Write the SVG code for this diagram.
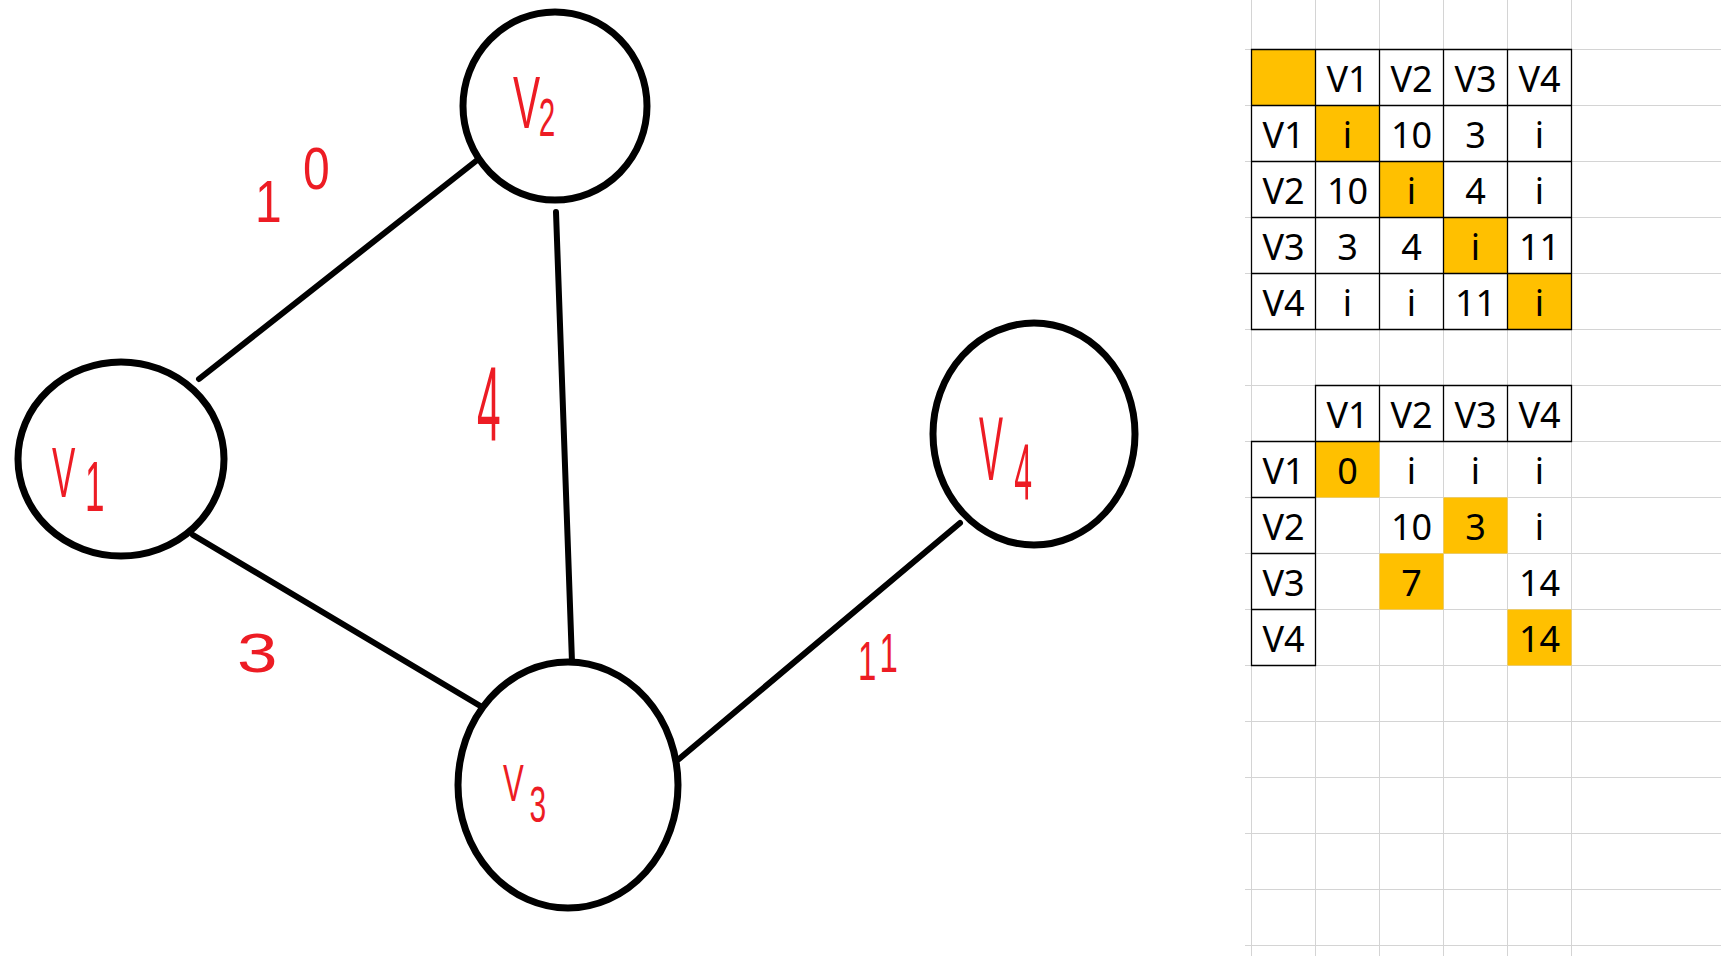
<svg xmlns="http://www.w3.org/2000/svg" width="1721" height="956" viewBox="0 0 1721 956">
<style>
.node{fill:none;stroke:#000;stroke-width:7}
.edge{stroke:#000;stroke-width:6;stroke-linecap:round;fill:none}
.hw{font-family:"Liberation Sans",Arial,sans-serif;fill:#ED1C24}
.grid{stroke:#D4D4D4;stroke-width:1}
.bd{stroke:#000;stroke-width:1.3;fill:none}
.hl{fill:#FFC000}
.c{font-family:"Noto Sans","Open Sans",sans-serif;font-size:36px;text-anchor:middle;fill:#000}
</style>
<rect width="1721" height="956" fill="#fff"/>
<g id="grid">
<path class="grid" d="M1251.5 0V956M1315.5 0V956M1379.5 0V956M1443.5 0V956M1507.5 0V956M1571.5 0V956
M1245 49.5H1721M1245 105.5H1721M1245 161.5H1721M1245 217.5H1721M1245 273.5H1721M1245 329.5H1721M1245 385.5H1721M1245 441.5H1721M1245 497.5H1721M1245 553.5H1721M1245 609.5H1721M1245 665.5H1721M1245 721.5H1721M1245 777.5H1721M1245 833.5H1721M1245 889.5H1721M1245 945.5H1721"/>
</g>
<g id="edges">
<line class="edge" x1="199" y1="379" x2="476" y2="161"/>
<line class="edge" x1="556" y1="212" x2="572" y2="662"/>
<line class="edge" x1="193" y1="535" x2="482" y2="707"/>
<line class="edge" x1="679" y1="759" x2="960" y2="523"/>
</g>
<g id="edge-labels">
<text class="hw" font-size="60" transform="translate(255,222) scale(0.8,1)"><tspan>1</tspan><tspan x="60" dy="-33">0</tspan></text>
<text class="hw" font-size="106" transform="translate(477,441) scale(0.4,1)">4</text>
<text class="hw" font-size="56" transform="translate(237,672) scale(1.3,1)">3</text>
<text class="hw" font-size="55" transform="translate(858,680) scale(0.6,1)"><tspan>1</tspan><tspan x="36" dy="-8">1</tspan></text>
</g>
<g id="node-v1">
<ellipse class="node" cx="121" cy="459" rx="103" ry="97"/>
<text class="hw" font-size="70" transform="translate(52,497) scale(0.5,1)"><tspan>V</tspan><tspan x="66" dy="14">1</tspan></text>
</g>
<g id="node-v2">
<ellipse class="node" cx="555" cy="106" rx="92" ry="94"/>
<text class="hw" font-size="74" transform="translate(513,128) scale(0.55,1)"><tspan>V</tspan><tspan x="47" dy="8" font-size="54">2</tspan></text>
</g>
<g id="node-v3">
<ellipse class="node" cx="568" cy="785" rx="110" ry="123"/>
<text class="hw" font-size="52" transform="translate(503,801) scale(0.6,1)"><tspan>V</tspan><tspan x="44" dy="21" font-size="50">3</tspan></text>
</g>
<g id="node-v4">
<ellipse class="node" cx="1034" cy="434" rx="101" ry="111"/>
<text class="hw" font-size="90" transform="translate(979,480) scale(0.4,1)"><tspan>V</tspan><tspan x="88" dy="19" font-size="80">4</tspan></text>
</g>
<g id="table1">
<rect class="hl" x="1251.5" y="49.5" width="64" height="56"/>
<rect class="hl" x="1315.5" y="105.5" width="64" height="56"/>
<rect class="hl" x="1379.5" y="161.5" width="64" height="56"/>
<rect class="hl" x="1443.5" y="217.5" width="64" height="56"/>
<rect class="hl" x="1507.5" y="273.5" width="64" height="56"/>
<path class="bd" d="M1251.5 49.5H1571.5V329.5H1251.5ZM1315.5 49.5V329.5M1379.5 49.5V329.5M1443.5 49.5V329.5M1507.5 49.5V329.5M1251.5 105.5H1571.5M1251.5 161.5H1571.5M1251.5 217.5H1571.5M1251.5 273.5H1571.5"/>
<text class="c" y="91.5"><tspan x="1347.5">V1</tspan><tspan x="1411.5">V2</tspan><tspan x="1475.5">V3</tspan><tspan x="1539.5">V4</tspan></text>
<text class="c" y="147.5"><tspan x="1283.5">V1</tspan><tspan x="1347.5">i</tspan><tspan x="1411.5">10</tspan><tspan x="1475.5">3</tspan><tspan x="1539.5">i</tspan></text>
<text class="c" y="203.5"><tspan x="1283.5">V2</tspan><tspan x="1347.5">10</tspan><tspan x="1411.5">i</tspan><tspan x="1475.5">4</tspan><tspan x="1539.5">i</tspan></text>
<text class="c" y="259.5"><tspan x="1283.5">V3</tspan><tspan x="1347.5">3</tspan><tspan x="1411.5">4</tspan><tspan x="1475.5">i</tspan><tspan x="1539.5">11</tspan></text>
<text class="c" y="315.5"><tspan x="1283.5">V4</tspan><tspan x="1347.5">i</tspan><tspan x="1411.5">i</tspan><tspan x="1475.5">11</tspan><tspan x="1539.5">i</tspan></text>
</g>
<g id="table2">
<rect class="hl" x="1315.5" y="441.5" width="64" height="56"/>
<rect class="hl" x="1443.5" y="497.5" width="64" height="56"/>
<rect class="hl" x="1379.5" y="553.5" width="64" height="56"/>
<rect class="hl" x="1507.5" y="609.5" width="64" height="56"/>
<path class="bd" d="M1315.5 385.5H1571.5V441.5H1315.5ZM1379.5 385.5V441.5M1443.5 385.5V441.5M1507.5 385.5V441.5M1251.5 441.5H1315.5V665.5H1251.5ZM1251.5 497.5H1315.5M1251.5 553.5H1315.5M1251.5 609.5H1315.5"/>
<text class="c" y="427.5"><tspan x="1347.5">V1</tspan><tspan x="1411.5">V2</tspan><tspan x="1475.5">V3</tspan><tspan x="1539.5">V4</tspan></text>
<text class="c" y="483.5"><tspan x="1283.5">V1</tspan><tspan x="1347.5">0</tspan><tspan x="1411.5">i</tspan><tspan x="1475.5">i</tspan><tspan x="1539.5">i</tspan></text>
<text class="c" y="539.5"><tspan x="1283.5">V2</tspan><tspan x="1411.5">10</tspan><tspan x="1475.5">3</tspan><tspan x="1539.5">i</tspan></text>
<text class="c" y="595.5"><tspan x="1283.5">V3</tspan><tspan x="1411.5">7</tspan><tspan x="1539.5">14</tspan></text>
<text class="c" y="651.5"><tspan x="1283.5">V4</tspan><tspan x="1539.5">14</tspan></text>
</g>
</svg>
